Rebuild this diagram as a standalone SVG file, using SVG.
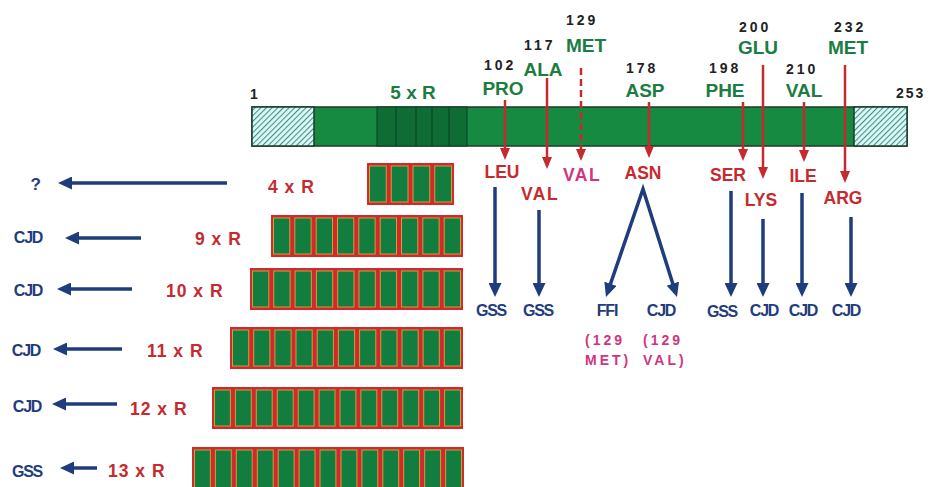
<svg xmlns="http://www.w3.org/2000/svg" width="930" height="487" viewBox="0 0 930 487">
<defs>
<pattern id="hatch" patternUnits="userSpaceOnUse" width="4" height="4" patternTransform="rotate(45)">
<rect width="4" height="4" fill="#e4f5f3"/>
<line x1="0" y1="0" x2="0" y2="4" stroke="#2f9a93" stroke-width="2.2"/>
</pattern>
<marker id="ar" viewBox="0 0 12 10" markerUnits="userSpaceOnUse" markerWidth="12" markerHeight="10" refX="8" refY="5" orient="auto">
<path d="M0,0 L12,5 L0,10 z" fill="#c62a2f"/>
</marker>
<marker id="ab" viewBox="0 0 14 13" markerUnits="userSpaceOnUse" markerWidth="14" markerHeight="13" refX="9" refY="6.5" orient="auto">
<path d="M0,0 L14,6.5 L0,13 z" fill="#1f3c7c"/>
</marker>
<marker id="abs" viewBox="0 0 14 13" markerUnits="userSpaceOnUse" markerWidth="14" markerHeight="13" refX="9" refY="6.5" orient="auto-start-reverse">
<path d="M0,0 L14,6.5 L0,13 z" fill="#1f3c7c"/>
</marker>
</defs>
<style>
text{font-family:"Liberation Sans",Arial,sans-serif;font-weight:bold}
.num{font-size:14px;fill:#222;letter-spacing:3px}
.grn{font-size:19px;fill:#1b7d40;text-anchor:middle}
.red{font-size:17.5px;fill:#c62a2f;text-anchor:middle}
.pink{font-size:17.5px;fill:#d0357f;text-anchor:middle;letter-spacing:1.5px}
.blu{font-size:16px;fill:#1f3c7c;text-anchor:middle;letter-spacing:-1.2px}
.rep{font-size:17.5px;fill:#c62a2f;letter-spacing:1px}
.pk{font-size:14px;fill:#d0357f;letter-spacing:3px}
.row{fill:#d22a2c}
.cell{fill:#127d3f;stroke:#c9a23a;stroke-width:1}
.ra{stroke:#c62a2f;stroke-width:2.5;fill:none;marker-end:url(#ar)}
.ba{stroke:#1f3c7c;stroke-width:3.5;fill:none;marker-end:url(#ab)}
</style>

<g id="protein-bar">
<rect x="252" y="107" width="655" height="39" fill="#168a41" stroke="#1d3a2a" stroke-width="1.5"/>
<rect x="252" y="107" width="62" height="39" fill="url(#hatch)" stroke="#1d3a2a" stroke-width="1.5"/>
<rect x="854" y="107" width="53" height="39" fill="url(#hatch)" stroke="#1d3a2a" stroke-width="1.5"/>
<rect x="377" y="107" width="90" height="39" fill="#0f6c35" stroke="#0a3d22" stroke-width="1"/>
<g stroke="#0a3d22" stroke-width="1">
<line x1="396" y1="107" x2="396" y2="146"/>
<line x1="416" y1="107" x2="416" y2="146"/>
<line x1="432" y1="107" x2="432" y2="146"/>
<line x1="449" y1="107" x2="449" y2="146"/>
</g>
<text class="num" x="250" y="99">1</text>
<text class="num" x="896" y="98" style="letter-spacing:2px">253</text>
<text class="grn" x="413" y="99">5 x R</text>
</g>

<g id="site-102"><text class="num" x="484" y="70">102</text><text class="grn" x="503" y="95">PRO</text></g>
<g id="site-117"><text class="num" x="524" y="50">117</text><text class="grn" x="543" y="76">ALA</text></g>
<g id="site-129"><text class="num" x="566" y="25">129</text><text class="grn" x="586" y="52">MET</text></g>
<g id="site-178"><text class="num" x="626" y="73">178</text><text class="grn" x="645" y="97">ASP</text></g>
<g id="site-198"><text class="num" x="709" y="73">198</text><text class="grn" x="725" y="97">PHE</text></g>
<g id="site-200"><text class="num" x="739" y="32">200</text><text class="grn" x="758" y="54">GLU</text></g>
<g id="site-210"><text class="num" x="786" y="74">210</text><text class="grn" x="804" y="97">VAL</text></g>
<g id="site-232"><text class="num" x="834" y="32">232</text><text class="grn" x="848" y="54">MET</text></g>

<g id="mutants">
<text class="red" x="502" y="178">LEU</text>
<text class="red" x="540" y="200" style="letter-spacing:1.5px">VAL</text>
<text class="pink" x="582" y="181">VAL</text>
<text class="red" x="643" y="179">ASN</text>
<text class="red" x="728" y="181">SER</text>
<text class="red" x="761" y="206">LYS</text>
<text class="red" x="803" y="182">ILE</text>
<text class="red" x="843" y="204">ARG</text>
</g>

<g id="diseases">
<text class="blu" x="491" y="316">GSS</text>
<text class="blu" x="538" y="316">GSS</text>
<text class="blu" x="607" y="316">FFI</text>
<text class="blu" x="661" y="316">CJD</text>
<text class="blu" x="722" y="317">GSS</text>
<text class="blu" x="764" y="316">CJD</text>
<text class="blu" x="803" y="316">CJD</text>
<text class="blu" x="846" y="316">CJD</text>
<text class="pk" x="585" y="345">(129</text>
<text class="pk" x="585" y="365">MET)</text>
<text class="pk" x="643" y="345">(129</text>
<text class="pk" x="643" y="365">VAL)</text>
</g>

<g id="row-4">
<rect class="row" x="367" y="163" width="87" height="42"/>
<rect class="cell" x="369.5" y="166" width="16.75" height="36"/>
<rect class="cell" x="391.25" y="166" width="16.75" height="36"/>
<rect class="cell" x="413" y="166" width="16.75" height="36"/>
<rect class="cell" x="434.75" y="166" width="16.75" height="36"/>
<text class="rep" x="268" y="193">4 x R</text>
<text class="blu" x="35" y="190" style="font-size:17px">?</text>
</g>

<g id="row-9">
<rect class="row" x="271" y="215" width="192" height="42"/>
<rect class="cell" x="273.5" y="218" width="16.3" height="36"/>
<rect class="cell" x="294.8" y="218" width="16.3" height="36"/>
<rect class="cell" x="316.2" y="218" width="16.3" height="36"/>
<rect class="cell" x="337.5" y="218" width="16.3" height="36"/>
<rect class="cell" x="358.8" y="218" width="16.3" height="36"/>
<rect class="cell" x="380.2" y="218" width="16.3" height="36"/>
<rect class="cell" x="401.5" y="218" width="16.3" height="36"/>
<rect class="cell" x="422.8" y="218" width="16.3" height="36"/>
<rect class="cell" x="444.2" y="218" width="16.3" height="36"/>
<text class="rep" x="195" y="245">9 x R</text>
<text class="blu" x="28" y="243">CJD</text>
</g>

<g id="row-10">
<rect class="row" x="250" y="268" width="213" height="42"/>
<rect class="cell" x="252.5" y="271" width="16.3" height="36"/>
<rect class="cell" x="273.8" y="271" width="16.3" height="36"/>
<rect class="cell" x="295.1" y="271" width="16.3" height="36"/>
<rect class="cell" x="316.4" y="271" width="16.3" height="36"/>
<rect class="cell" x="337.7" y="271" width="16.3" height="36"/>
<rect class="cell" x="359" y="271" width="16.3" height="36"/>
<rect class="cell" x="380.3" y="271" width="16.3" height="36"/>
<rect class="cell" x="401.6" y="271" width="16.3" height="36"/>
<rect class="cell" x="422.9" y="271" width="16.3" height="36"/>
<rect class="cell" x="444.2" y="271" width="16.3" height="36"/>
<text class="rep" x="166" y="297">10 x R</text>
<text class="blu" x="28" y="296">CJD</text>
</g>

<g id="row-11">
<rect class="row" x="230" y="327" width="233" height="42"/>
<rect class="cell" x="232.5" y="330" width="16.2" height="36"/>
<rect class="cell" x="253.7" y="330" width="16.2" height="36"/>
<rect class="cell" x="274.9" y="330" width="16.2" height="36"/>
<rect class="cell" x="296" y="330" width="16.2" height="36"/>
<rect class="cell" x="317.2" y="330" width="16.2" height="36"/>
<rect class="cell" x="338.4" y="330" width="16.2" height="36"/>
<rect class="cell" x="359.6" y="330" width="16.2" height="36"/>
<rect class="cell" x="380.8" y="330" width="16.2" height="36"/>
<rect class="cell" x="402" y="330" width="16.2" height="36"/>
<rect class="cell" x="423.1" y="330" width="16.2" height="36"/>
<rect class="cell" x="444.3" y="330" width="16.2" height="36"/>
<text class="rep" x="147" y="357">11 x R</text>
<text class="blu" x="26" y="356">CJD</text>
</g>

<g id="row-12">
<rect class="row" x="212" y="387" width="251" height="42"/>
<rect class="cell" x="214.5" y="390" width="15.9" height="36"/>
<rect class="cell" x="235.4" y="390" width="15.9" height="36"/>
<rect class="cell" x="256.3" y="390" width="15.9" height="36"/>
<rect class="cell" x="277.3" y="390" width="15.9" height="36"/>
<rect class="cell" x="298.2" y="390" width="15.9" height="36"/>
<rect class="cell" x="319.1" y="390" width="15.9" height="36"/>
<rect class="cell" x="340" y="390" width="15.9" height="36"/>
<rect class="cell" x="360.9" y="390" width="15.9" height="36"/>
<rect class="cell" x="381.8" y="390" width="15.9" height="36"/>
<rect class="cell" x="402.8" y="390" width="15.9" height="36"/>
<rect class="cell" x="423.7" y="390" width="15.9" height="36"/>
<rect class="cell" x="444.6" y="390" width="15.9" height="36"/>
<text class="rep" x="130" y="415">12 x R</text>
<text class="blu" x="27" y="412">CJD</text>
</g>

<g id="row-13">
<rect class="row" x="192" y="447" width="272" height="44"/>
<rect class="cell" x="194.5" y="450" width="15.9" height="38"/>
<rect class="cell" x="215.4" y="450" width="15.9" height="38"/>
<rect class="cell" x="236.3" y="450" width="15.9" height="38"/>
<rect class="cell" x="257.3" y="450" width="15.9" height="38"/>
<rect class="cell" x="278.2" y="450" width="15.9" height="38"/>
<rect class="cell" x="299.1" y="450" width="15.9" height="38"/>
<rect class="cell" x="320" y="450" width="15.9" height="38"/>
<rect class="cell" x="341" y="450" width="15.9" height="38"/>
<rect class="cell" x="361.9" y="450" width="15.9" height="38"/>
<rect class="cell" x="382.8" y="450" width="15.9" height="38"/>
<rect class="cell" x="403.7" y="450" width="15.9" height="38"/>
<rect class="cell" x="424.7" y="450" width="15.9" height="38"/>
<rect class="cell" x="445.6" y="450" width="15.9" height="38"/>
<text class="rep" x="108" y="477">13 x R</text>
<text class="blu" x="27" y="477">GSS</text>
</g>

<g id="connectors">
<line class="ra" x1="505" y1="100" x2="505" y2="156"/>
<line class="ra" x1="547" y1="78" x2="547" y2="165"/>
<line class="ra" x1="581" y1="68" x2="581" y2="157" stroke-dasharray="7,4"/>
<line class="ra" x1="649" y1="102" x2="649" y2="154"/>
<line class="ra" x1="743" y1="102" x2="743" y2="157"/>
<line class="ra" x1="763" y1="65" x2="763" y2="175"/>
<line class="ra" x1="804" y1="102" x2="804" y2="158"/>
<line class="ra" x1="845" y1="65" x2="845" y2="179"/>

<line class="ba" x1="495" y1="187" x2="495" y2="292"/>
<line class="ba" x1="539" y1="210" x2="539" y2="292"/>
<polyline points="607.6,292.3 643,189 675.5,292.2" fill="none" stroke="#1f3c7c" stroke-width="3.5" stroke-linejoin="miter" marker-start="url(#abs)" marker-end="url(#ab)"/>
<line class="ba" x1="731" y1="191" x2="731" y2="292"/>
<line class="ba" x1="763" y1="219" x2="763" y2="292"/>
<line class="ba" x1="802" y1="193" x2="802" y2="292"/>
<line class="ba" x1="851" y1="217" x2="851" y2="292"/>

<line class="ba" x1="227" y1="183" x2="63" y2="183"/>
<line class="ba" x1="141" y1="238" x2="70" y2="238"/>
<line class="ba" x1="132" y1="289" x2="62" y2="289"/>
<line class="ba" x1="122" y1="349" x2="58" y2="349"/>
<line class="ba" x1="117" y1="404" x2="57" y2="404"/>
<line class="ba" x1="97" y1="468" x2="65" y2="468"/>
</g>
</svg>
